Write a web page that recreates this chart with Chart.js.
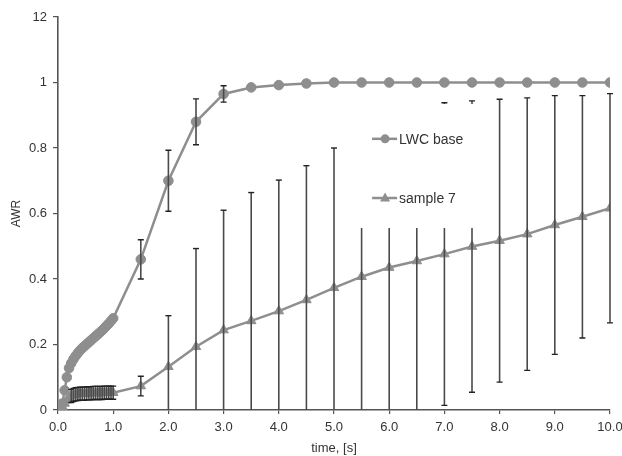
<!DOCTYPE html>
<html lang="en">
<head>
<meta charset="UTF-8">
<title>AWR vs time</title>
<script src="https://cdn.jsdelivr.net/npm/chart.js"></script>
<style>
  body { margin: 0; background: #fff; }
  #wrap { width: 622px; height: 456px; position: relative; }
</style>
</head>
<body>
<div id="wrap"><canvas id="awrChart"></canvas></div>

<script>
// time [s] - dense samples up to 1 s, then every 0.5 s
const times = [0, 0.04, 0.08, 0.12, 0.16, 0.2, 0.24, 0.28, 0.32, 0.36, 0.4, 0.44, 0.48,
  0.52, 0.56, 0.6, 0.64, 0.68, 0.72, 0.76, 0.8, 0.84, 0.88, 0.92, 0.96, 1.0,
  1.5, 2.0, 2.5, 3.0, 3.5, 4.0, 4.5, 5.0, 5.5, 6.0, 6.5, 7.0, 7.5, 8.0, 8.5, 9.0, 9.5, 10.0];

const lwcBase = [0, 0.005, 0.02, 0.06, 0.1, 0.128, 0.143, 0.155, 0.165, 0.174, 0.182, 0.189, 0.195,
  0.201, 0.207, 0.213, 0.219, 0.225, 0.231, 0.237, 0.243, 0.25, 0.257, 0.264, 0.272, 0.28,
  0.46, 0.70, 0.88, 0.965, 0.985, 0.992, 0.997, 1.0, 1.0, 1.0, 1.0, 1.0, 1.0, 1.0, 1.0, 1.0, 1.0, 1.0];

const lwcError = [0, 0, 0, 0, 0, 0, 0, 0, 0, 0, 0, 0, 0,
  0, 0, 0, 0, 0, 0, 0, 0, 0, 0, 0, 0, 0,
  0.06, 0.093, 0.07, 0.025, 0, 0, 0, 0, 0, 0, 0, 0, 0, 0, 0, 0, 0, 0];

const sample7 = [0, 0.003, 0.01, 0.02, 0.03, 0.038, 0.043, 0.046, 0.048, 0.049, 0.05, 0.05, 0.05,
  0.051, 0.051, 0.051, 0.052, 0.052, 0.052, 0.052, 0.052, 0.053, 0.053, 0.053, 0.053, 0.053,
  0.073, 0.132, 0.193, 0.244, 0.272, 0.302, 0.336, 0.373, 0.407, 0.435, 0.455, 0.476, 0.499,
  0.517, 0.537, 0.565, 0.59, 0.616];

const sample7Error = [0, 0, 0, 0, 0, 0, 0.02, 0.02, 0.02, 0.02, 0.02, 0.02, 0.02,
  0.02, 0.02, 0.02, 0.02, 0.02, 0.02, 0.02, 0.02, 0.02, 0.02, 0.02, 0.02, 0.02,
  0.03, 0.156, 0.30, 0.366, 0.392, 0.40, 0.41, 0.427, 0.44, 0.45, 0.458, 0.462, 0.445,
  0.432, 0.416, 0.395, 0.37, 0.35];

const xTickLabels = ['0.0', '1.0', '2.0', '3.0', '4.0', '5.0', '6.0', '7.0', '8.0', '9.0', '10.0'];
const yTickLabels = ['0', '0.2', '0.4', '0.6', '0.8', '1', '12'];

const seriesNames = ['LWC base', 'sample 7'];

const grey = '#8e8e8e';
const fontFamily = '"Liberation Sans", Arial, sans-serif';

function toPoints(values) {
  return times.map((t, i) => ({ x: t, y: values[i] }));
}

// vertical error bars with caps, clipped to the plot area (Excel cuts them at 0)
const errorBars = {
  id: 'errorBars',
  afterDatasetsDraw(chart, args, opts) {
    const ctx = chart.ctx;
    const a = chart.chartArea;
    const xs = chart.scales.x, ys = chart.scales.y;
    ctx.save();
    ctx.beginPath();
    ctx.rect(a.left - 5, a.top - 5, a.right - a.left + 10, a.bottom - a.top + 5);
    ctx.clip();
    chart.data.datasets.forEach((ds, d) => {
      const errs = opts.errors[d];
      ds.data.forEach((p, i) => {
        const e = errs[i];
        if (!e) return;
        const x = xs.getPixelForValue(p.x);
        const yTop = ys.getPixelForValue(p.y + e);
        const yBot = ys.getPixelForValue(Math.max(p.y - e, 0));
        ctx.strokeStyle = '#4a4a4a';
        ctx.lineWidth = 1.6;
        ctx.beginPath();
        ctx.moveTo(x, yTop);
        ctx.lineTo(x, yBot);
        ctx.stroke();
        ctx.strokeStyle = '#222';
        ctx.lineWidth = 1.4;
        ctx.beginPath();
        ctx.moveTo(x - 3, yTop); ctx.lineTo(x + 3, yTop);
        if (p.y - e > 0) { ctx.moveTo(x - 3, yBot); ctx.lineTo(x + 3, yBot); }
        ctx.stroke();
      });
    });
    ctx.restore();
  }
};

// legend sits inside the plot on a white box (it hides part of some bars)
const boxLegend = {
  id: 'boxLegend',
  afterDraw(chart, args, opts) {
    const ctx = chart.ctx;
    const a = chart.chartArea;
    const w = a.right - a.left, h = a.bottom - a.top;
    const px = f => a.left + f * w;
    const py = f => a.top + f * h;
    ctx.save();
    ctx.fillStyle = '#fff';
    ctx.fillRect(px(opts.box[0]), py(opts.box[1]), px(opts.box[2]) - px(opts.box[0]), py(opts.box[3]) - py(opts.box[1]));
    chart.data.datasets.forEach((ds, i) => {
      const y = py(opts.rows[i]);
      const x0 = px(opts.x0);
      ctx.strokeStyle = ds.borderColor;
      ctx.lineWidth = 2.5;
      ctx.beginPath();
      ctx.moveTo(x0, y);
      ctx.lineTo(x0 + 25, y);
      ctx.stroke();
      ctx.fillStyle = ds.backgroundColor;
      ctx.beginPath();
      if (ds.pointStyle === 'triangle') {
        ctx.moveTo(x0 + 13, y - 5.5);
        ctx.lineTo(x0 + 18, y + 3.5);
        ctx.lineTo(x0 + 8, y + 3.5);
        ctx.closePath();
      } else {
        ctx.arc(x0 + 13, y, 4.5, 0, Math.PI * 2);
      }
      ctx.fill();
      ctx.fillStyle = '#333';
      ctx.font = '14px ' + fontFamily;
      ctx.textBaseline = 'middle';
      ctx.fillText(ds.label, x0 + 27, y + 1);
    });
    ctx.restore();
  }
};

const config = {
  type: 'line',
  data: {
    datasets: [{
      label: seriesNames[0],
      data: toPoints(lwcBase),
      borderColor: grey,
      backgroundColor: grey,
      borderWidth: 2.5,
      pointStyle: 'circle',
      pointRadius: 4.8,
      pointBorderWidth: 1,
      tension: 0
    }, {
      label: seriesNames[1],
      data: toPoints(sample7),
      borderColor: grey,
      backgroundColor: grey,
      borderWidth: 2.5,
      pointStyle: 'triangle',
      pointRadius: 5.5,
      pointBorderWidth: 1,
      tension: 0
    }]
  },
  options: {
    responsive: true,
    maintainAspectRatio: false,
    animation: false,
    layout: { padding: { top: 17, right: 12, bottom: 0, left: 0 } },
    scales: {
      x: {
        type: 'linear',
        min: 0,
        max: 10,
        afterFit: (axis) => {
          axis.height = 46;
          axis.paddingLeft = 0;
          axis.paddingRight = 0;
        },
        ticks: {
          stepSize: 1,
          padding: 6,
          color: '#333',
          font: { family: fontFamily, size: 13 },
          callback: (v, i) => xTickLabels[i]
        },
        grid: { drawOnChartArea: false, tickLength: 4, color: '#555', lineWidth: 1.2 },
        border: { color: '#555', width: 1.6 },
        title: {
          display: true,
          text: 'time, [s]',
          color: '#333',
          font: { family: fontFamily, size: 13 },
          padding: { top: 0, bottom: 0 }
        }
      },
      y: {
        min: 0,
        max: 1.2,
        afterFit: (axis) => {
          axis.width = 58;
          axis.paddingTop = 0;
          axis.paddingBottom = 0;
        },
        ticks: {
          stepSize: 0.2,
          padding: 6,
          color: '#333',
          font: { family: fontFamily, size: 13 },
          callback: (v, i) => yTickLabels[i]
        },
        grid: { drawOnChartArea: false, tickLength: 5, color: '#555', lineWidth: 1.2 },
        border: { color: '#555', width: 1.6 },
        title: {
          display: true,
          text: 'AWR',
          color: '#333',
          font: { family: fontFamily, size: 12 },
          padding: { top: 9, bottom: 0 }
        }
      }
    },
    plugins: {
      legend: { display: false },
      tooltip: { enabled: false },
      errorBars: { errors: [lwcError, sample7Error] },
      boxLegend: { box: [0.5145, 0.2214, 0.79, 0.537], rows: [0.31, 0.4606], x0: 0.569 }
    }
  },
  plugins: [errorBars, boxLegend]
};

new Chart(document.getElementById('awrChart'), config);
</script>
</body>
</html>
